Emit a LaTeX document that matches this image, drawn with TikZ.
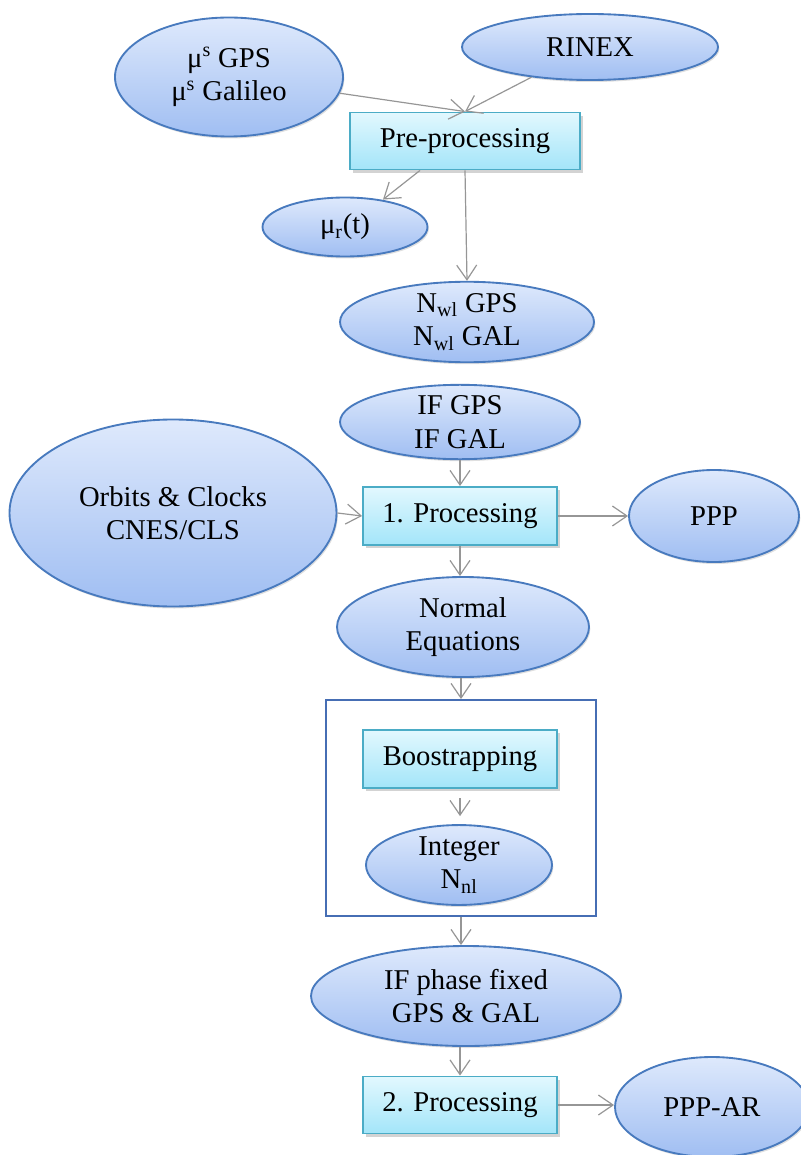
\documentclass[tikz,border=0pt]{standalone}
\usepackage{fontspec}
\setmainfont{Liberation Serif}
\usetikzlibrary{shapes.geometric,arrows.meta,shadows,calc}
\definecolor{elltop}{RGB}{222,233,252}
\definecolor{ellbot}{RGB}{160,190,242}
\definecolor{elldraw}{RGB}{72,122,190}
\definecolor{recttop}{RGB}{226,248,254}
\definecolor{rectbot}{RGB}{163,229,249}
\definecolor{rectdraw}{RGB}{75,172,198}
\definecolor{arrowgray}{RGB}{150,150,150}
\definecolor{boxdraw}{RGB}{70,110,180}
\begin{document}
\begin{tikzpicture}[x=0.75pt,y=-0.75pt,
  every node/.style={font=\fontsize{21.5}{25}\selectfont, align=center, inner sep=0pt},
  ell/.style 2 args={ellipse, draw=elldraw, line width=1.4pt, top color=elltop, bottom color=ellbot,
    minimum width=#1*0.75pt, minimum height=#2*0.75pt,
    drop shadow={shadow xshift=1pt, shadow yshift=-1.5pt, opacity=0.25}},
  proc/.style 2 args={rectangle, draw=rectdraw, line width=1.4pt, top color=recttop, bottom color=rectbot,
    minimum width=#1*0.75pt, minimum height=#2*0.75pt,
    drop shadow={shadow xshift=2pt, shadow yshift=-2.5pt, opacity=0.35}},
  frame/.style={draw=boxdraw, line width=1.4pt, minimum width=270*0.75pt, minimum height=216*0.75pt},
  arr/.style={draw=arrowgray, line width=0.9pt, -{Straight Barb[length=11pt,width=15pt]}}]
\useasboundingbox (0,0) rectangle (800,1155);
\node[ell={228}{119}] (mus) at (229,77) {μ\textsuperscript{s} GPS\\μ\textsuperscript{s} Galileo};
\node[ell={256}{66}] (rin) at (590,47) {RINEX};
\node[proc={230}{57}] (pre) at (465,141) {Pre-processing};
\node[ell={165}{59}] (mur) at (345,227) {μ\textsubscript{r}(t)};
\node[ell={254}{72}] (nwl) at (467,322) {N\textsubscript{wl} GPS\\N\textsubscript{wl} GAL};
\node[ell={240}{72}] (ifn) at (460,422) {IF GPS\\IF GAL};
\node[ell={327}{187}] (orb) at (173,513) {Orbits \& Clocks\\CNES/CLS};
\node[proc={194}{58}] (p1) at (460,516) {1. Processing};
\node[ell={170}{92}] (ppp) at (714,516) {PPP};
\node[ell={252}{100}] (ne) at (463,627) {Normal\\Equations};
\node[frame] (box) at (461,808) {};
\node[proc={194}{58}] (boost) at (460,759) {Boostrapping};
\node[ell={186}{71}] (int) at (459,865) {Integer\\N\textsubscript{nl}};
\node[ell={310}{100}] (ifp) at (466,996) {IF phase fixed\\GPS \& GAL};
\node[proc={194}{57}] (p2) at (460,1105) {2. Processing};
\node[ell={194}{100}] (ppar) at (712,1107) {PPP-AR};
\draw[arr] (mus) -- (pre.north);
\draw[arr] (rin) -- (pre.north);
\draw[arr] ($(pre.south)+(-45,0)$) -- ($(mur.north)+(38,3)$);
\draw[arr] (pre.south) -- (nwl.north);
\draw[arr] (ifn.south) -- (p1.north);
\draw[arr] (orb.east) -- (p1.west);
\draw[arr] (p1.east) -- (ppp.west);
\draw[arr] (p1.south) -- (p1.south |- ne.north);
\draw[arr] (box.north |- ne.south) -- (box.north);
\draw[arr, shorten <=7pt, shorten >=6pt] (boost.south) -- (boost.south |- int.north);
\draw[arr] (box.south) -- (box.south |- ifp.north);
\draw[arr] (p2.north |- ifp.south) -- (p2.north);
\draw[arr] (p2.east) -- (p2.east -| ppar.west);
\end{tikzpicture}
\end{document}
